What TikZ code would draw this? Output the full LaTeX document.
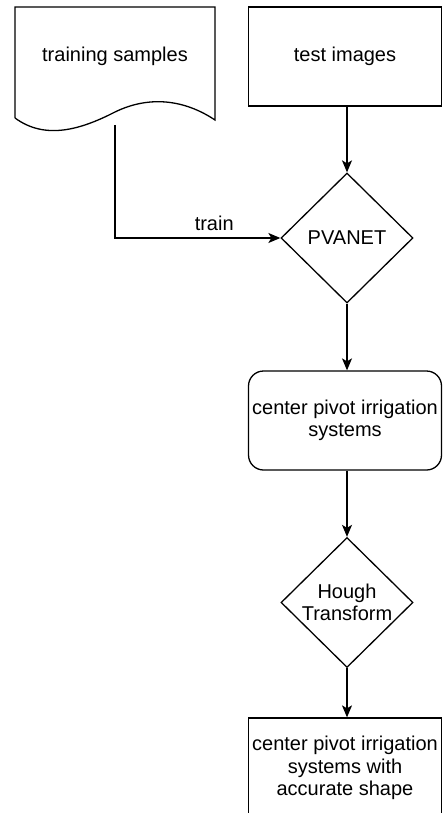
\documentclass[tikz,border=0pt]{standalone}
\usepackage{fontspec}
\setmainfont{Liberation Sans}
\usetikzlibrary{shapes.geometric,arrows.meta}
\tikzset{>={Stealth[length=12pt,width=10pt,inset=3pt]},
  flow/.style={draw=black, line width=1.3pt, align=center, inner sep=2pt,
    font=\fontsize{20}{22.5}\selectfont},
  boxnode/.style={flow, rectangle, minimum width=193pt, minimum height=99pt},
  decision/.style={flow, diamond, minimum width=132pt, minimum height=130pt, inner sep=0pt},
  link/.style={->, line width=1.3pt}}

\begin{document}
\begin{tikzpicture}[x=1pt, y=-1pt]
    \useasboundingbox (0,0) rectangle (442,813);

    % Document shape for the samples
    \draw[line width=1.3pt] (15,118) -- (15,7) -- (215,7) -- (215,120)
        .. controls (185,100) and (150,95) .. (115,112)
        .. controls (80,130) and (45,140) .. (15,118);
    \node[font=\fontsize{20}{22.5}\selectfont] (samples) at (115,56) {training samples};
    \coordinate (samplesout) at (115,125);

    % Boxes and decisions
    \node[boxnode] (test) at (345,56.5) {test images};
    \node[decision] (pvanet) at (347,238) {PVANET};
    \node[boxnode, rounded corners=15pt] (pivot) at (345,420.5) {center pivot irrigation\\systems};
    \node[decision] (hough) at (347,602.5) {Hough\\Transform};
    \node[boxnode, minimum height=100pt] (shape) at (345,768) {center pivot irrigation\\systems with\\accurate shape};

    % Connectors
    \draw[link] (pvanet.north |- test.south) -- (pvanet.north);
    \draw[link] (samplesout) |- (pvanet.west) node[pos=0.8, above=3pt, font=\fontsize{20}{22.5}\selectfont] {train};
    \draw[link] (pvanet.south) -- (pvanet.south |- pivot.north);
    \draw[link] (hough.north |- pivot.south) -- (hough.north);
    \draw[link] (hough.south) -- (hough.south |- shape.north);

\end{tikzpicture}
\end{document}
